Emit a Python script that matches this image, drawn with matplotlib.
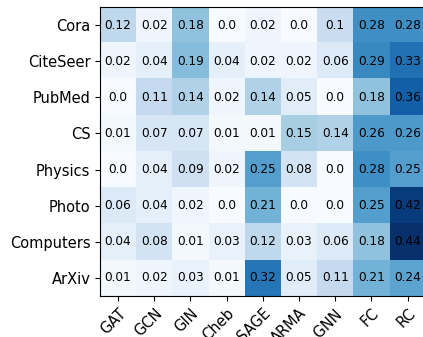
import numpy as np
import matplotlib
matplotlib.use('Agg')
import matplotlib.pyplot as plt

models = ['GAT', 'GCN', 'GIN', 'Cheb', 'SAGE', 'ARMA', 'k-GNN', 'FC', 'RC']
datasets = ['Cora', 'CiteSeer', 'PubMed', 'CS', 'Physics', 'Photo', 'Computers', 'ArXiv']

cora = [0.12, 0.02, 0.18, 0.0, 0.02, 0.0, 0.1, 0.28, 0.28]
citeseer = [0.02, 0.04, 0.19, 0.04, 0.02, 0.02, 0.06, 0.29, 0.33]
pubmed = [0.0, 0.11, 0.14, 0.02, 0.14, 0.05, 0.0, 0.18, 0.36]
cs = [0.01, 0.07, 0.07, 0.01, 0.01, 0.15, 0.14, 0.26, 0.26]
physics = [0.0, 0.04, 0.09, 0.02, 0.25, 0.08, 0.0, 0.28, 0.25]
photo = [0.06, 0.04, 0.02, 0.0, 0.21, 0.0, 0.0, 0.25, 0.42]
computers = [0.04, 0.08, 0.01, 0.03, 0.12, 0.03, 0.06, 0.18, 0.44]
arxiv = [0.01, 0.02, 0.03, 0.01, 0.32, 0.05, 0.11, 0.21, 0.24]

vals = np.array([cora, citeseer, pubmed, cs, physics, photo, computers, arxiv])

fig = plt.figure(figsize=(4.23, 3.37), dpi=100)
ax = fig.add_axes([0.2364, 0.1217, 0.770, 0.8576])
ax.imshow(vals, cmap='Blues', vmin=0, vmax=vals.max(), aspect='auto')

for i in range(vals.shape[0]):
    for j in range(vals.shape[1]):
        ax.text(j, i, str(vals[i, j]), ha='center', va='center', fontsize=8.7, color='black')

ax.set_xticks(range(len(models)))
ax.set_xticklabels(models, rotation=45, ha='right', rotation_mode='anchor', fontsize=10.5)
ax.set_yticks(range(len(datasets)))
ax.set_yticklabels(datasets, fontsize=10.5)

plt.savefig('out.png', dpi=100)
plt.close()
